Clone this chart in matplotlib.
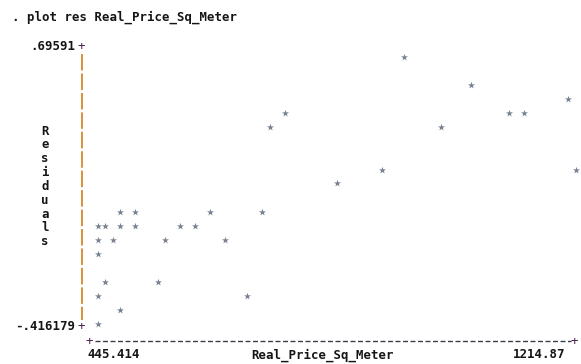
import matplotlib
matplotlib.use("Agg")
import matplotlib.pyplot as plt
from matplotlib.lines import Line2D

# ---- data ----
x_name = "Real_Price_Sq_Meter"
y_name = "Residuals"
x_min, x_max = 445.414, 1214.87
y_min, y_max = -0.416179, 0.69591
x_labels = ["445.414", "1214.87"]
y_labels = [".69591", "-.416179"]

res_x = [938.2, 1046.4, 1202.6, 745.9, 1106.5, 1130.5, 721.9, 998.3,
         902.2, 1214.9, 830.1,
         481.5, 505.5, 625.7, 709.9,
         445.4, 457.4, 481.5, 505.5, 577.6, 601.7,
         445.4, 469.5, 553.6, 649.8,
         445.4,
         457.4, 541.6,
         445.4, 685.8,
         481.5,
         445.4]
res_y = [0.640, 0.529, 0.473, 0.418, 0.418, 0.418, 0.362, 0.362,
         0.195, 0.195, 0.140,
         0.029, 0.029, 0.029, 0.029,
         -0.027, -0.027, -0.027, -0.027, -0.027, -0.027,
         -0.083, -0.083, -0.083, -0.083,
         -0.138,
         -0.249, -0.249,
         -0.305, -0.305,
         -0.361,
         -0.416]

W, H = 581, 364
fig = plt.figure(figsize=(W / 100, H / 100), dpi=100)
fig.patch.set_facecolor("white")

def fx(px):
    return px / W

def fy(py):
    return 1 - py / H

FONT = "DejaVu Sans Mono"
FS = 8.9
TXT = "#151515"
PLUS = "#4a1f4a"

# plot region (pixel box for data)
L, R, T, B = 98, 576, 43, 324
ax = fig.add_axes([fx(L), fy(B), (R - L) / W, (B - T) / H])
ax.set_xlim(x_min, x_max)
ax.set_ylim(y_min, y_max)
ax.axis("off")
ax.scatter(res_x, res_y, marker="*", s=28, color="#76808f", linewidths=0,
           clip_on=False, zorder=3)

# title
fig.text(fx(12), fy(17), ". plot res " + x_name, family=FONT, fontsize=FS,
         fontweight="bold", color=TXT, ha="left", va="center")

# y tick labels with '+'
fig.text(fx(75), fy(46.5), y_labels[0], family=FONT, fontsize=FS,
         fontweight="bold", color=TXT, ha="right", va="center")
fig.text(fx(81.5), fy(46.5), "+", family=FONT, fontsize=FS, color=PLUS,
         ha="center", va="center")
fig.text(fx(75), fy(326.5), y_labels[1], family=FONT, fontsize=FS,
         fontweight="bold", color=TXT, ha="right", va="center")
fig.text(fx(81.5), fy(326.5), "+", family=FONT, fontsize=FS, color=PLUS,
         ha="center", va="center")

# vertical dashed orange axis
fig.add_artist(Line2D([fx(82.3), fx(82.3)], [fy(54), fy(320)],
                      color="#d9913a", linewidth=1.4,
                      dashes=(8.5, 1.5), transform=fig.transFigure))

# vertical 'Residuals'
for i, ch in enumerate(y_name):
    fig.text(fx(45), fy(131 + i * 13.85), ch, family=FONT, fontsize=FS,
             fontweight="bold", color=TXT, ha="center", va="center")

# bottom axis
fig.text(fx(89.5), fy(341), "+", family=FONT, fontsize=FS, color=PLUS,
         ha="center", va="center")
fig.text(fx(574.5), fy(341), "+", family=FONT, fontsize=FS, color=PLUS,
         ha="center", va="center")
fig.add_artist(Line2D([fx(95), fx(570.5)], [fy(341), fy(341)],
                      color="#3a3f48", linewidth=1.0,
                      dashes=(3.6, 1.8), transform=fig.transFigure))

# bottom labels
fig.text(fx(87.5), fy(355), x_labels[0], family=FONT, fontsize=FS,
         fontweight="bold", color=TXT, ha="left", va="center")
fig.text(fx(251.5), fy(355), x_name, family=FONT, fontsize=FS,
         fontweight="bold", color=TXT, ha="left", va="center")
fig.text(fx(565.5), fy(355), x_labels[1], family=FONT, fontsize=FS,
         fontweight="bold", color=TXT, ha="right", va="center")

fig.savefig("out.png", dpi=100, facecolor="white")
